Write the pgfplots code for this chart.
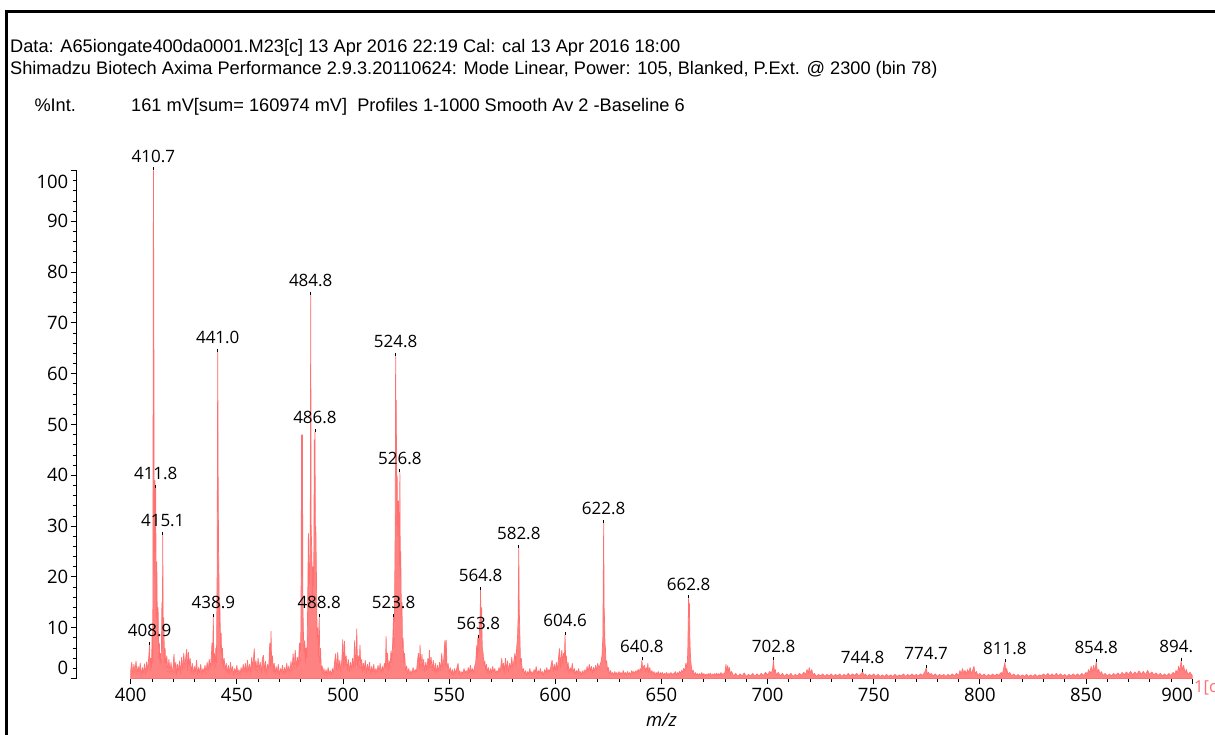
\documentclass[border=0pt]{standalone}
\usepackage{fontspec}
\setmainfont{Liberation Sans}
\newfontfamily\labelfont{Open Sans}
\usepackage{pgfplots}
\pgfplotsset{compat=1.18}
\definecolor{trace}{RGB}{255,113,113}

\newcommand\headfont{\fontsize{18.2bp}{21bp}\selectfont}
\newcommand\tickfont{\labelfont\fontsize{18.5bp}{20bp}\selectfont}
\newcommand\peakfont{\labelfont\fontsize{17bp}{19bp}\selectfont}

\begin{document}
\begin{tikzpicture}
\path[use as bounding box] (0,0) rectangle (1215bp,735bp);
\clip (0,0) rectangle (1215bp,735bp);

% page frame
\draw[line width=3.2bp] (6.7bp,-5bp) -- (6.7bp,723.5bp) -- (1225bp,723.5bp);

% acquisition header
\node[anchor=base west, inner sep=0pt, font=\headfont] at (10bp,682bp)
  {Data: A65iongate400da0001.M23[c] 13 Apr 2016 22:19 Cal: cal 13 Apr 2016 18:00};
\node[anchor=base west, inner sep=0pt, font=\headfont] at (10bp,660bp)
  {Shimadzu Biotech Axima Performance 2.9.3.20110624: Mode Linear, Power: 105, Blanked, P.Ext. @ 2300 (bin 78)};
\node[anchor=base west, inner sep=0pt, font=\headfont] at (34.3bp,623.3bp) {\%Int.};
\node[anchor=base west, inner sep=0pt, font=\headfont] at (131bp,623.3bp)
  {161 mV[sum= 160974 mV]\ \ Profiles 1-1000 Smooth Av 2 -Baseline 6};

% trace name at the end of the m/z axis
\node[anchor=west, inner sep=0pt, text=trace, font=\labelfont\fontsize{16.5bp}{18bp}\selectfont] at (1194bp,47bp) {1[c};

\begin{axis}[
  scale only axis,
  width=1061.5bp, height=508bp,
  at={(130.7bp,56.5bp)}, anchor=south west,
  xmin=400, xmax=900, ymin=0, ymax=100,
  clip=false,
  axis x line=bottom, axis y line=left,
  axis y line shift=54.7bp,
  axis line style={-, black, line width=0.9bp},
  tick align=outside,
  major tick length=5.5bp, minor tick length=3.5bp,
  tick style={black, line width=0.8bp},
  xtick={400,450,...,900},
  xticklabels={400,450,500,550,600,650,700,750,800,850,\hphantom{900}\llap{900\hspace{15bp}}},
  minor x tick num=4,
  ytick={0,10,...,100},
  yticklabels={\raisebox{10.5bp}[\height][\depth]{0},10,20,30,40,50,60,70,80,90,\raisebox{-11bp}[\height][\depth]{100}},
  minor y tick num=4,
  xticklabel style={font=\tickfont, inner sep=0pt, yshift=-4bp},
  yticklabel style={font=\tickfont, inner sep=0pt, xshift=-2bp},
  xlabel={m/z},
  xlabel style={font=\labelfont\itshape\fontsize{18.5bp}{20bp}\selectfont, inner sep=0pt,
    at={(axis description cs:0.5,0)}, anchor=north, yshift=-35bp},
]

% profile (% intensity against m/z), filled down to the baseline
\addplot[trace, fill=trace!88, line width=0.7bp, line join=bevel] coordinates {
(400.0,1.5)(400.5,3.2)(401.0,0.6)(401.5,2.8)(402.0,1.1)(402.5,3.5)(403.0,0.8)(403.5,2.4)(404.0,1.2)(404.5,3.0)
(405.0,0.5)(405.5,2.2)(406.0,1.0)(406.5,2.9)(407.0,0.7)(407.5,3.3)(408.0,1.4)(408.5,4.2)(408.9,6.6)(409.2,1.5)
(409.5,4.0)(409.8,2.0)(410.1,9.0)(410.4,3.0)(410.7,100)(410.9,72)(411.1,20)(411.4,39)(411.6,25)(411.8,37.5)
(412.0,12)(412.3,23)(412.6,8)(412.9,14)(413.2,4)(413.5,7)(413.8,2.5)(414.1,5)(414.4,3)(414.7,15)
(414.9,6)(415.1,28.3)(415.3,10)(415.6,12)(415.9,3)(416.2,6)(416.5,2)(417.0,4.5)(417.5,1.2)(418.0,3.8)
(418.5,1.0)(419.0,3.2)(419.5,0.8)(420.0,2.5)(420.4,4.8)(420.8,1.0)(421.2,3.2)(421.6,0.6)(422.0,2.8)(422.5,1.4)
(423.0,3.5)(423.5,0.9)(424.0,4.2)(424.5,1.6)(425.0,5.0)(425.5,2.0)(426.0,4.4)(426.4,5.8)(426.8,1.5)(427.2,5.2)
(427.6,2.2)(428.0,4.0)(428.5,1.0)(429.0,3.0)(429.5,0.8)(430.0,2.4)(430.5,1.2)(431.0,3.6)(431.5,0.7)(432.0,2.2)
(432.5,1.0)(433.0,2.8)(433.5,0.6)(434.0,2.0)(434.5,1.2)(435.0,2.6)(435.5,0.9)(436.0,3.2)(436.5,1.5)(437.0,3.8)
(437.5,1.8)(438.0,4.5)(438.3,7.0)(438.6,2.5)(438.9,12.1)(439.2,3.0)(439.5,5.0)(439.8,2.0)(440.1,6.0)(440.4,3.0)
(440.7,20)(441.0,64.3)(441.2,38.7)(441.4,25)(441.6,19)(441.8,10)(442.0,15)(442.3,6)(442.6,9)(442.9,3)
(443.2,6)(443.6,2)(444.0,4)(444.5,1.5)(445.0,3.0)(445.5,1.0)(446.0,2.6)(446.5,0.8)(447.0,3.2)(447.5,1.2)
(448.0,2.4)(448.5,0.6)(449.0,2.0)(449.5,1.0)(450.0,2.6)(450.5,0.8)(451.0,1.8)(451.5,0.6)(452.0,2.2)(452.5,1.0)
(453.0,2.8)(453.5,1.2)(454.0,3.0)(454.5,1.0)(455.0,3.6)(455.5,1.4)(456.0,2.8)(456.5,1.0)(457.0,4.2)(457.5,1.8)
(458.2,5.9)(458.6,1.5)(459.0,3.5)(459.5,1.2)(460.0,4.0)(460.5,1.6)(461.0,3.2)(461.5,1.0)(462.0,3.8)(462.5,4.6)
(463.0,1.4)(463.5,3.4)(464.0,1.0)(464.5,2.8)(465.0,1.8)(465.5,6.9)(465.8,2.0)(466.1,9.3)(466.4,2.5)(466.8,4.5)
(467.2,1.2)(467.6,3.0)(468.0,0.8)(468.5,2.4)(469.0,1.0)(469.5,2.8)(470.0,0.6)(470.5,2.0)(471.0,1.2)(471.5,2.6)
(472.0,0.8)(472.5,2.2)(473.0,1.0)(473.5,3.0)(474.0,1.2)(474.5,2.5)(475.0,0.9)(475.5,3.4)(476.0,1.5)(476.5,4.9)
(477.0,1.8)(477.5,5.6)(478.0,2.0)(478.5,4.2)(479.0,2.5)(479.5,7.0)(479.8,3.0)(480.2,10)(480.5,48)(480.7,20)
(480.9,48)(481.1,15)(481.4,8)(481.7,5)(482.0,7.5)(482.3,3)(482.6,6)(483.0,4)(483.3,12)(483.7,28.6)
(484.0,14)(484.3,22)(484.6,30)(484.8,75.5)(485.0,30)(485.3,24.7)(485.6,15)(485.9,22)(486.2,18)(486.5,47)
(486.7,30)(486.8,48.5)(487.0,28)(487.2,30)(487.5,20)(487.8,8)(488.1,10)(488.4,4)(488.8,12.1)(489.1,3)
(489.4,6)(489.8,1.5)(490.2,2.5)(490.6,0.8)(491.0,2.0)(491.5,0.6)(492.0,1.8)(492.5,0.5)(493.0,2.2)(493.5,0.8)
(494.0,1.6)(494.5,0.6)(495.0,2.0)(495.5,1.0)(496.0,3.0)(496.5,4.9)(497.0,1.5)(497.5,5.2)(498.0,1.8)(498.5,3.6)
(499.0,1.2)(499.5,4.0)(499.9,7.7)(500.3,2.0)(500.7,7.4)(501.1,2.5)(501.5,4.5)(502.0,1.5)(502.5,3.8)(503.0,1.2)
(503.5,3.2)(504.0,1.8)(504.5,4.0)(505.0,2.0)(505.5,7.5)(505.9,2.5)(506.2,5.0)(506.5,9.8)(506.8,2.5)(507.2,4.5)
(507.6,2.0)(508.0,6.6)(508.4,1.8)(508.8,3.8)(509.2,1.2)(509.6,3.0)(510.0,1.5)(510.5,3.6)(511.0,1.0)(511.5,2.8)
(512.0,1.4)(512.5,3.2)(513.0,0.8)(513.5,2.4)(514.0,1.2)(514.5,2.8)(515.0,0.8)(515.5,2.0)(516.0,1.0)(516.5,2.6)
(517.0,1.2)(517.5,3.0)(518.0,1.0)(518.5,2.4)(519.0,1.4)(519.5,3.0)(520.0,2.0)(520.3,8.3)(520.6,2.0)(521.0,5.0)
(521.4,1.5)(521.8,3.5)(522.2,2.0)(522.6,5.5)(523.0,3.0)(523.4,7.0)(523.8,12.1)(524.1,6)(524.4,20)(524.6,30)
(524.8,63.5)(525.0,40)(525.1,54.8)(525.3,30)(525.5,40)(525.8,28)(526.1,35)(526.4,29)(526.6,22)(526.8,40.6)
(527.0,20)(527.2,25)(527.5,12)(527.8,15)(528.0,6)(528.3,8)(528.6,3)(529.0,5)(529.5,1.5)(530.0,2.5)
(530.5,0.8)(531.0,2.0)(531.5,0.6)(532.0,1.6)(532.5,0.8)(533.0,2.2)(533.5,1.0)(534.0,1.8)(534.5,1.0)(535.0,3.0)
(535.5,5.0)(536.0,1.8)(536.3,6.6)(536.7,2.0)(537.2,4.8)(537.6,1.5)(538.0,3.8)(538.5,1.2)(539.0,3.2)(539.5,1.5)
(540.0,4.0)(540.4,1.8)(540.7,5.6)(541.0,2.0)(541.5,4.2)(542.0,1.5)(542.5,3.6)(543.0,1.2)(543.5,3.0)(544.0,1.0)
(544.5,2.6)(545.0,1.2)(545.5,3.2)(546.0,1.5)(546.5,5.0)(547.0,2.0)(547.5,4.0)(548.0,7.5)(548.3,2.5)(548.6,7.6)
(549.0,2.0)(549.5,3.0)(550.0,1.0)(550.5,2.2)(551.0,0.8)(551.5,1.8)(552.0,0.6)(552.5,2.0)(553.0,1.0)(553.5,1.8)
(554.2,3.0)(554.6,0.8)(555.0,1.6)(555.5,0.6)(556.0,1.4)(556.5,0.8)(557.0,2.0)(557.5,1.0)(558.0,1.6)(558.5,0.8)
(559.0,2.2)(559.5,1.0)(560.0,2.6)(560.5,1.2)(561.0,2.0)(561.5,1.0)(562.0,2.4)(562.5,3.0)(563.0,6.5)(563.3,4.0)
(563.5,8.0)(563.8,8.0)(564.0,5.0)(564.3,10)(564.6,12)(564.8,17.4)(565.0,8)(565.3,14)(565.6,6)(566.0,5)
(566.4,2.5)(566.8,3.5)(567.2,1.5)(567.6,2.8)(568.0,1.0)(568.5,2.2)(569.0,0.8)(569.5,2.0)(570.0,1.0)(570.5,2.4)
(571.0,1.2)(571.5,2.0)(572.0,0.8)(572.5,1.6)(573.0,1.0)(573.5,2.2)(574.0,1.2)(574.8,4.0)(575.2,1.5)(575.6,3.0)
(576.0,1.0)(576.5,4.0)(577.0,1.5)(577.5,3.5)(578.0,1.2)(578.5,3.0)(579.0,1.8)(579.5,4.2)(580.0,2.0)(580.5,3.5)
(581.0,5.0)(581.4,2.5)(581.8,6.0)(582.2,8)(582.5,12)(582.8,25.7)(583.0,14)(583.3,9)(583.6,3)(584.0,4)
(584.5,1.2)(585.0,2.0)(585.5,0.8)(586.0,1.6)(586.5,0.6)(587.0,1.4)(587.5,0.8)(588.0,2.0)(588.5,0.8)(589.0,1.4)
(589.5,0.6)(590.0,1.8)(590.5,1.0)(591.0,2.4)(591.5,0.8)(592.0,1.6)(592.5,1.0)(593.0,2.0)(593.5,0.8)(594.0,1.4)
(594.5,0.6)(595.0,1.8)(595.5,1.0)(596.0,2.2)(596.5,1.0)(597.0,1.8)(597.5,1.2)(598.0,2.6)(598.5,3.6)(599.0,1.2)
(599.5,2.8)(600.0,1.5)(600.5,3.2)(601.0,1.4)(601.5,4.0)(602.0,5.9)(602.4,2.0)(602.8,4.5)(603.1,5.6)(603.5,2.5)
(603.9,5.0)(604.3,4.0)(604.6,8.6)(604.9,3.0)(605.2,4.5)(605.6,1.5)(606.0,3.2)(606.5,1.0)(607.0,2.2)(607.5,1.2)
(608.0,3.0)(608.5,1.0)(609.0,2.0)(609.5,0.8)(610.0,1.6)(610.5,1.0)(611.0,2.0)(611.5,0.8)(612.0,1.4)(612.5,0.6)
(613.0,1.6)(613.5,0.8)(614.0,1.8)(614.5,1.0)(615.0,2.4)(615.5,1.2)(616.0,2.8)(616.5,1.5)(617.0,2.4)(617.5,1.0)
(618.0,2.2)(618.5,1.4)(619.0,2.6)(619.5,1.6)(620.0,3.0)(620.5,2.0)(621.0,2.6)(621.5,3.2)(622.0,4.5)(622.4,8)
(622.8,30.6)(623.0,14)(623.2,11.5)(623.4,7)(623.6,6)(623.9,3)(624.2,3.5)(624.6,1.5)(625.0,2.2)(625.5,0.8)
(626.0,1.6)(626.5,0.8)(627.0,1.2)(627.5,0.6)(628.0,1.4)(628.5,0.8)(629.0,1.2)(629.5,0.6)(630.0,1.4)(630.5,0.8)
(631.0,1.2)(631.5,0.6)(632.0,1.6)(632.5,0.8)(633.0,1.2)(633.5,0.6)(634.0,1.4)(634.5,0.8)(635.0,1.2)(635.5,0.6)
(636.0,1.6)(636.5,1.0)(637.0,1.4)(637.5,0.8)(638.0,1.6)(638.5,1.0)(639.0,1.8)(639.5,1.2)(640.0,2.0)(640.4,1.2)
(640.8,3.6)(641.2,1.5)(641.6,2.4)(642.0,2.6)(642.4,1.2)(642.8,2.2)(643.2,1.4)(643.6,3.0)(644.0,1.0)(644.5,2.2)
(645.0,0.8)(645.5,1.6)(646.0,0.8)(646.5,1.4)(647.0,0.6)(647.5,1.2)(648.0,0.8)(648.5,1.4)(649.0,0.6)(649.5,1.2)
(650.0,0.8)(650.5,1.2)(651.0,0.6)(651.5,1.0)(652.0,0.8)(652.5,1.2)(653.0,0.6)(653.5,1.0)(654.0,0.8)(654.5,1.2)
(655.0,0.6)(655.5,1.0)(656.0,0.8)(656.5,1.4)(657.0,0.6)(657.5,1.2)(658.0,0.8)(658.5,1.4)(659.0,1.0)(659.5,1.6)
(660.0,1.2)(660.5,2.0)(661.0,1.4)(661.5,3.0)(662.0,2.0)(662.4,5.0)(662.8,15.8)(663.0,12)(663.2,14.8)(663.4,8)
(663.6,5)(663.9,3)(664.2,2)(664.6,1.2)(665.0,1.6)(665.5,0.6)(666.0,1.2)(666.5,0.6)(667.0,1.0)(667.5,0.5)
(668.0,1.0)(668.5,0.6)(669.0,1.2)(669.5,0.6)(670.0,1.0)(670.5,0.5)(671.0,0.9)(671.5,0.5)(672.0,1.0)(672.5,0.6)
(673.0,1.1)(673.5,0.5)(674.0,0.9)(674.5,0.6)(675.0,1.0)(675.5,0.5)(676.0,1.1)(676.5,0.6)(677.0,1.0)(677.5,0.6)
(678.0,1.2)(678.5,0.6)(679.0,1.0)(679.5,0.7)(680.0,1.4)(680.4,2.8)(680.8,1.0)(681.2,2.6)(681.6,1.2)(682.0,2.2)
(682.5,0.8)(683.0,1.4)(684,0.5)(685,1.0)(686,0.4)(687,0.9)(688,0.5)(689,1.1)(690,0.4)(691,0.8)
(692,0.5)(693,1.0)(694,0.4)(695,0.9)(696,0.5)(697,1.0)(698,0.6)(699,1.2)(700,0.7)(701,1.4)
(701.8,1.0)(702.4,2.0)(702.8,3.6)(703.2,1.2)(703.6,1.8)(704.2,0.6)(705,1.2)(706,0.5)(707,1.0)(708,0.4)
(709,0.9)(710,0.5)(711,1.0)(712,0.4)(713,0.8)(714,0.5)(715,1.0)(716,0.6)(717,1.2)(718,0.8)
(718.6,1.8)(719.2,1.0)(719.6,2.2)(720.2,1.0)(720.8,1.8)(721.4,0.6)(722,1.0)(723,0.4)(724,0.8)(725,0.5)
(726,0.9)(727,0.4)(728,0.8)(729,0.5)(730,0.9)(731,0.4)(732,0.8)(733,0.5)(734,0.9)(735,0.4)
(736,0.8)(737,0.5)(738,1.0)(739,0.5)(740,0.9)(741,0.6)(742,1.0)(743,0.5)(744,0.9)(744.8,1.3)
(745.5,0.5)(746,0.9)(747,0.4)(748,0.8)(749,0.5)(750,0.9)(751,0.4)(752,0.8)(753,0.4)(754,0.7)
(755,0.4)(756,0.8)(757,0.4)(758,0.7)(759,0.4)(760,0.8)(761,0.4)(762,0.7)(763,0.5)(764,0.9)
(765,0.4)(766,0.8)(767,0.5)(768,0.9)(769,0.5)(770,0.8)(771,0.5)(772,0.9)(773,0.6)(774,1.2)
(774.7,2.1)(775.3,0.8)(775.8,1.2)(776.5,0.6)(777,1.0)(778,0.5)(779,0.9)(780,0.4)(781,0.8)(782,0.5)
(783,0.8)(784,0.4)(785,0.8)(786,0.5)(787,0.9)(788,0.5)(789,1.0)(790,0.6)(790.6,1.6)(791.2,0.8)
(791.8,2.0)(792.4,1.0)(793,1.6)(793.6,0.8)(794.2,1.8)(794.8,1.0)(795.4,2.2)(796,0.9)(796.6,1.6)(797.2,2.4)
(797.8,0.9)(798.4,1.4)(799,0.6)(800,1.0)(801,0.5)(802,0.9)(803,0.4)(804,0.8)(805,0.5)(806,0.9)
(807,0.5)(808,0.9)(809,0.6)(810,1.2)(810.6,0.8)(811.2,2.0)(811.8,3.2)(812.2,1.2)(812.6,2.0)(813.2,0.8)
(814,1.2)(815,0.5)(816,0.9)(817,0.4)(818,0.8)(819,0.4)(820,0.7)(821,0.4)(822,0.8)(823,0.4)
(824,0.7)(825,0.4)(826,0.8)(827,0.4)(828,0.7)(829,0.5)(830,0.9)(831,0.5)(832,1.0)(833,0.5)
(834,0.9)(835,0.5)(836,1.0)(837,0.5)(838,0.9)(839,0.5)(840,0.8)(841,0.4)(842,0.8)(843,0.5)
(844,0.9)(845,0.5)(846,0.9)(847,0.5)(848,1.0)(849,0.6)(850,1.2)(850.6,0.8)(851.2,1.8)(851.8,1.0)
(852.4,2.4)(853,1.2)(853.6,2.6)(854.2,1.4)(854.8,3.3)(855.4,1.2)(856,1.8)(856.6,0.8)(857.2,1.4)(858,0.6)
(859,1.0)(860,0.5)(861,0.9)(862,0.5)(863,1.0)(864,0.6)(865,1.1)(866,0.6)(867,1.2)(868,0.7)
(869,1.3)(870,0.8)(871,1.4)(872,0.7)(873,1.3)(874,0.8)(875,1.5)(876,0.8)(877,1.4)(878,0.7)
(879,1.6)(880,0.8)(881,1.3)(882,0.7)(883,1.1)(884,0.6)(885,1.0)(886,0.5)(887,0.9)(888,0.5)
(889,1.0)(890,0.6)(891,1.2)(891.8,0.8)(892.4,1.6)(893,1.0)(893.6,2.4)(894.2,1.4)(894.8,3.5)(895.4,1.6)
(896,2.6)(896.6,1.0)(897.2,1.8)(898,0.8)(899,1.2)(900,0.6)
} \closedcycle;

% labelled peaks: a short tick above each apex and its m/z
\addplot[only marks, mark=|, black, mark size=1.5bp,
  mark options={yshift=1.5bp, line width=0.8bp},
  point meta=explicit symbolic,
  nodes near coords,
  every node near coord/.append style={font=\peakfont, text=black, inner sep=0pt, yshift=6bp}]
  table[meta=label, row sep=\\] {
x y label\\
408.9 6.6 408.9\\
410.7 100 410.7\\
411.8 37.5 411.8\\
415.1 28.3 415.1\\
438.9 12.1 438.9\\
441.0 64.3 441.0\\
484.8 75.5 484.8\\
486.8 48.5 486.8\\
488.8 12.1 488.8\\
523.8 12.1 523.8\\
524.8 63.5 524.8\\
526.8 40.6 526.8\\
563.8 8.0 563.8\\
564.8 17.4 564.8\\
582.8 25.7 582.8\\
604.6 8.6 604.6\\
622.8 30.6 622.8\\
640.8 3.6 640.8\\
662.8 15.8 662.8\\
702.8 3.6 702.8\\
744.8 1.3 744.8\\
774.7 2.1 774.7\\
811.8 3.2 811.8\\
854.8 3.3 854.8\\
894.8 3.5 894.\hphantom{8}\\
};
\end{axis}
\end{tikzpicture}
\end{document}
